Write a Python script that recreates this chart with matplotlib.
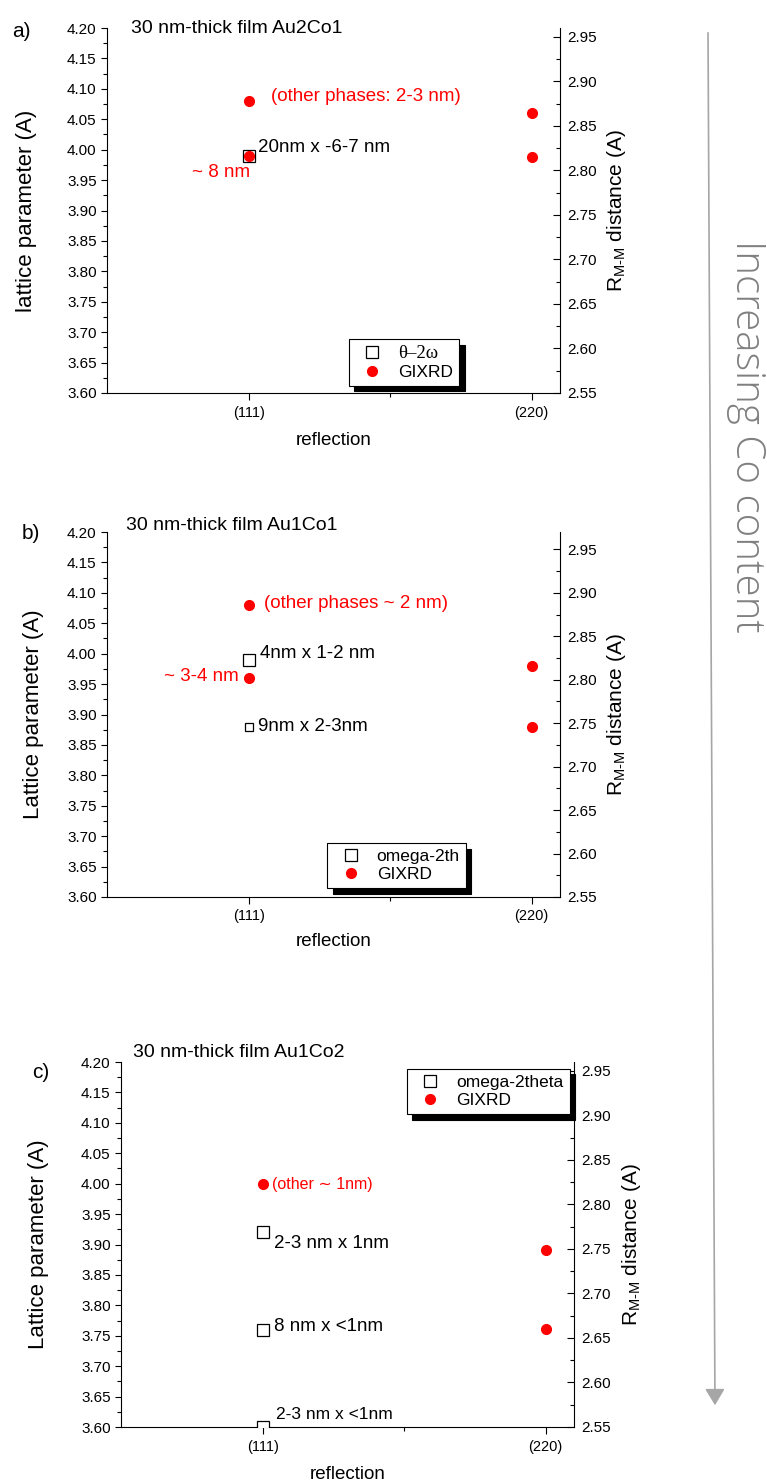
import matplotlib
matplotlib.use('Agg')

import matplotlib.pyplot as plt
from matplotlib.lines import Line2D
from matplotlib.patches import FancyArrowPatch
from matplotlib.ticker import MultipleLocator, FixedLocator, FormatStrFormatter

plt.rcParams['font.family'] = ['Liberation Sans', 'DejaVu Sans']
plt.rcParams['mathtext.fontset'] = 'custom'
plt.rcParams['mathtext.rm'] = 'Liberation Sans'
plt.rcParams['mathtext.it'] = 'Liberation Sans:italic'

################# Data #####################################################
reflections = ['(111)', '(220)']
refl_pos    = [1, 2]

# theta-2omega lattice parameters, (111) reflection
a_theta_x = [1]
a_theta_y = [3.99]
b_theta_x = [1, 1]
b_theta_y = [3.99, 3.88]
c_theta_x = [1, 1, 1]
c_theta_y = [3.92, 3.76, 3.60]

# GIXRD lattice parameters, (111) reflection (left axis)
a_gix_x = [1, 1]
a_gix_y = [4.08, 3.99]
b_gix_x = [1, 1]
b_gix_y = [4.08, 3.96]
c_gix_x = [1]
c_gix_y = [4.00]

# GIXRD R_M-M distances, (220) reflection (right axis)
a_rmm_x = [2, 2]
a_rmm_y = [2.865, 2.815]
b_rmm_x = [2, 2]
b_rmm_y = [2.816, 2.746]
c_rmm_x = [2, 2]
c_rmm_y = [2.749, 2.660]

titles      = ['30 nm-thick film Au2Co1', '30 nm-thick film Au1Co1', '30 nm-thick film Au1Co2']
tags        = ['a)', 'b)', 'c)']
ylabels     = ['lattice parameter (A)', 'Lattice parameter (A)', 'Lattice parameter (A)']
theta_names = ['θ–2ω', 'omega-2th', 'omega-2theta']
gix_name    = 'GIXRD'

a_notes = ['(other phases: 2-3 nm)', '20nm x -6-7 nm', '~ 8 nm']
b_notes = ['(other phases ~ 2 nm)', '4nm x 1-2 nm', '~ 3-4 nm', '9nm x 2-3nm']
c_notes = ['(other ∼ 1nm)', '2-3 nm x 1nm', '8 nm x <1nm', '2-3 nm x <1nm']
############################################################################

W, H = 767, 1481

def fx(px):
  return px / W

def fy(py):
  return 1 - py / H

# layout: axes box (left px, top px), text positions, styles
panels = [
  dict(left=107, top=28, theta=(a_theta_x, a_theta_y), theta_ms=[8],
       gix=(a_gix_x, a_gix_y), rmm=(a_rmm_x, a_rmm_y), rlim=(2.55, 2.96),
       notes=a_notes,
       note_pos=[(1.081, 4.087, 'left', 'red', 13.5),
                 (1.035, 4.004, 'left', 'k', 13.5),
                 (1.007, 3.962, 'right', 'red', 13.5)],
       title_xy=(131, 33), tag_xy=(12, 37),
       ylab_x=-0.177, rlab_x=1.124, xlab_y=-0.108,
       leg_loc='upper left', leg_xy=(0.534, 0.148)),
  dict(left=107, top=532, theta=(b_theta_x, b_theta_y), theta_ms=[8, 6],
       gix=(b_gix_x, b_gix_y), rmm=(b_rmm_x, b_rmm_y), rlim=(2.55, 2.97),
       notes=b_notes,
       note_pos=[(1.053, 4.082, 'left', 'red', 13.5),
                 (1.039, 4.000, 'left', 'k', 13.5),
                 (0.965, 3.963, 'right', 'red', 13.5),
                 (1.035, 3.880, 'left', 'k', 13.5)],
       title_xy=(126, 530), tag_xy=(22, 539),
       ylab_x=-0.163, rlab_x=1.124, xlab_y=-0.100,
       leg_loc='upper left', leg_xy=(0.486, 0.148)),
  dict(left=121, top=1062, theta=(c_theta_x, c_theta_y), theta_ms=[8, 8, 8],
       gix=(c_gix_x, c_gix_y), rmm=(c_rmm_x, c_rmm_y), rlim=(2.55, 2.96),
       notes=c_notes,
       note_pos=[(1.035, 3.998, 'left', 'red', 11.5),
                 (1.039, 3.901, 'left', 'k', 13.5),
                 (1.039, 3.766, 'left', 'k', 13.5),
                 (1.046, 3.620, 'left', 'k', 12.5)],
       title_xy=(133, 1057), tag_xy=(32, 1078),
       ylab_x=-0.183, rlab_x=1.126, xlab_y=-0.106,
       leg_loc='upper left', leg_xy=(0.631, 0.981)),
]

fig = plt.figure(figsize=(W / 100, H / 100), dpi=100)

for i, p in enumerate(panels):
  ax = fig.add_axes([fx(p['left']), fy(p['top'] + 365), fx(453), 365 / H])
  ax.set_xlim(0.5, 2.1)
  ax.set_ylim(3.60, 4.20)
  ax.set_xticks(refl_pos)
  ax.set_xticklabels(reflections)
  ax.xaxis.set_minor_locator(FixedLocator([1.5]))
  ax.yaxis.set_major_locator(MultipleLocator(0.05))
  ax.yaxis.set_minor_locator(MultipleLocator(0.025))
  ax.yaxis.set_major_formatter(FormatStrFormatter('%.2f'))
  ax.tick_params(axis='x', which='major', direction='out', length=5, width=0.8, labelsize=10.5, pad=4)
  ax.tick_params(axis='x', which='minor', direction='out', length=3, width=0.8)
  ax.tick_params(axis='y', which='major', direction='out', length=4.5, width=0.8, labelsize=11, pad=3)
  ax.tick_params(axis='y', which='minor', direction='out', length=3, width=0.8)
  ax.spines['top'].set_visible(False)
  ax.spines['right'].set_visible(False)
  for s in ['left', 'bottom']:
    ax.spines[s].set_linewidth(0.8)

  # theta-2omega squares (open)
  tx, ty = p['theta']
  for x, y, ms in zip(tx, ty, p['theta_ms']):
    ax.plot(x, y, 's', mfc='white', mec='k', mew=0.9, ms=ms, zorder=3)
  # GIXRD (111)
  gx, gy = p['gix']
  ax.plot(gx, gy, 'o', color='red', ms=7, zorder=4)

  for txt, (x, y, ha, col, fs) in zip(p['notes'], p['note_pos']):
    ax.text(x, y, txt, ha=ha, va='center', color=col, fontsize=fs,
            family=['Liberation Sans', 'DejaVu Sans'])

  ax.set_ylabel(ylabels[i], fontsize=16)
  ax.yaxis.set_label_coords(p['ylab_x'], 0.5)
  ax.yaxis.label.set_va('center')
  ax.set_xlabel('reflection', fontsize=13.5)
  ax.xaxis.set_label_coords(0.5, p['xlab_y'])
  ax.xaxis.label.set_va('top')

  # right axis: R_M-M distance
  ax2 = ax.twinx()
  ax2.set_ylim(*p['rlim'])
  ax2.yaxis.set_major_locator(MultipleLocator(0.05))
  ax2.yaxis.set_minor_locator(MultipleLocator(0.025))
  ax2.yaxis.set_major_formatter(FormatStrFormatter('%.2f'))
  ax2.tick_params(axis='y', which='major', direction='in', length=5, width=0.8, labelsize=11, pad=5)
  ax2.tick_params(axis='y', which='minor', direction='in', length=3, width=0.8)
  for s in ['top', 'left', 'bottom']:
    ax2.spines[s].set_visible(False)
  ax2.spines['right'].set_linewidth(0.8)
  rx, ry = p['rmm']
  ax2.plot(rx, ry, 'o', color='red', ms=7, zorder=4)
  ax2.set_ylabel(r'R$_{\mathrm{M\text{-}M}}$ distance (A)', fontsize=15)
  ax2.yaxis.set_label_coords(p['rlab_x'], 0.5)
  ax2.yaxis.label.set_va('center')

  handles = [Line2D([], [], ls='none', marker='s', mfc='white', mec='k', mew=0.9, ms=8),
             Line2D([], [], ls='none', marker='o', color='red', ms=7)]
  leg = ax2.legend(handles, [theta_names[i], gix_name], loc=p['leg_loc'],
                   bbox_to_anchor=p['leg_xy'], borderaxespad=0, fancybox=False,
                   edgecolor='k', framealpha=1, fontsize=12.5, handlelength=2,
                   handletextpad=0.5, borderpad=0.35, labelspacing=0.15,
                   shadow={'ox': 4, 'oy': -4, 'facecolor': 'k', 'edgecolor': 'k', 'alpha': 1})
  leg.get_frame().set_linewidth(0.8)
  if i == 0:
    leg.get_texts()[0].set_family(['Liberation Serif', 'DejaVu Serif'])
    leg.get_texts()[0].set_fontsize(13.5)

  fig.text(fx(p['title_xy'][0]), fy(p['title_xy'][1]), titles[i], fontsize=14, va='baseline')
  fig.text(fx(p['tag_xy'][0]), fy(p['tag_xy'][1]), tags[i], fontsize=15, va='baseline')

# "Increasing Co content" arrow
arrow = FancyArrowPatch((fx(708), fy(30)), (fx(715), fy(1408)), transform=fig.transFigure,
                        arrowstyle='-|>,head_length=0.5,head_width=0.3', mutation_scale=20,
                        color='#a6a6a6', lw=1.2)
fig.add_artist(arrow)
fig.text(fx(747), fy(436), 'Increasing Co content', rotation=-90, ha='center', va='center',
         fontsize=29, color='#808080', family=['Open Sans', 'DejaVu Sans'], fontweight='light')

fig.savefig('out.png', dpi=100)
